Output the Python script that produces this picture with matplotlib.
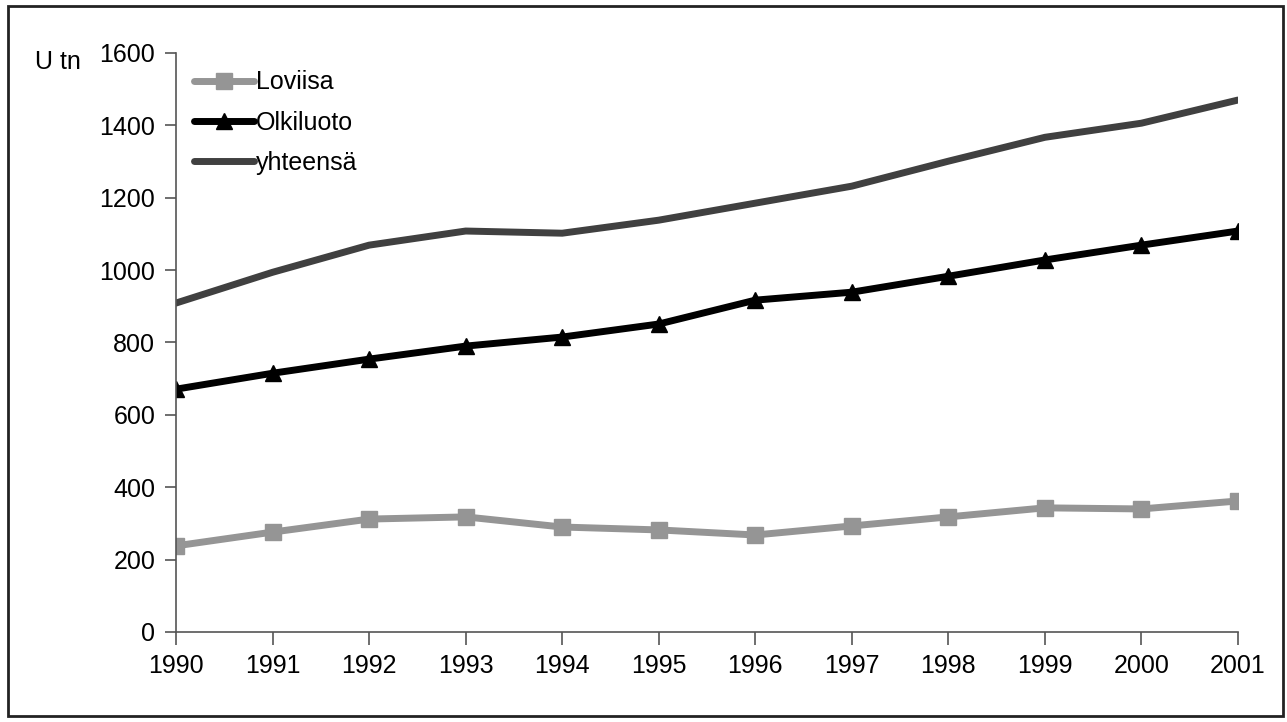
import matplotlib
matplotlib.use("Agg")
import matplotlib.pyplot as plt
from matplotlib.patches import Rectangle

plt.rcParams['font.family'] = ['Liberation Sans', 'DejaVu Sans']

years = [1990, 1991, 1992, 1993, 1994, 1995, 1996, 1997, 1998, 1999, 2000, 2001]
loviisa = [238, 276, 312, 318, 290, 282, 268, 293, 318, 343, 340, 362]
olkiluoto = [671, 715, 754, 790, 815, 851, 917, 939, 983, 1028, 1069, 1108]
yhteensa = [909, 994, 1069, 1108, 1102, 1138, 1185, 1232, 1301, 1367, 1406, 1470]

fig = plt.figure(figsize=(12.87, 7.22), dpi=100)
ax = fig.add_axes([0.1368, 0.1247, 0.8251, 0.8019])

ax.plot(years, loviisa, color='#959595', lw=5, marker='s', ms=11,
        solid_capstyle='round', label='Loviisa')
ax.plot(years, olkiluoto, color='black', lw=5, marker='^', ms=11,
        solid_capstyle='round', label='Olkiluoto')
ax.plot(years, yhteensa, color='#404040', lw=5,
        solid_capstyle='round', label='yhteensä')

ax.set_xlim(1990, 2001)
ax.set_ylim(0, 1600)
ax.set_xticks(years)
ax.set_yticks(range(0, 1601, 200))
ax.spines['top'].set_visible(False)
ax.spines['right'].set_visible(False)
for s in ['left', 'bottom']:
    ax.spines[s].set_color('#555555')
    ax.spines[s].set_linewidth(1.2)
ax.tick_params(axis='y', direction='out', length=8, width=1.2, color='#555555',
               labelsize=18, pad=7)
ax.tick_params(axis='x', direction='out', length=9, width=1.2, color='#555555',
               labelsize=18, pad=7)
for lab in ax.get_xticklabels() + ax.get_yticklabels():
    lab.set_clip_on(False)

fig.text(0.027, 0.914, 'U tn', fontsize=18, ha='left', va='center')

leg = ax.legend(loc='upper left', bbox_to_anchor=(0.0, 1.0), frameon=False,
                fontsize=18, handlelength=2.4, handletextpad=0.1,
                labelspacing=0.65, borderaxespad=0.3)

fig.patches.append(Rectangle((0.006, 0.008), 0.991, 0.984, transform=fig.transFigure,
                             fill=False, lw=2.0, ec='#222222'))

fig.savefig('out.png', dpi=100)
